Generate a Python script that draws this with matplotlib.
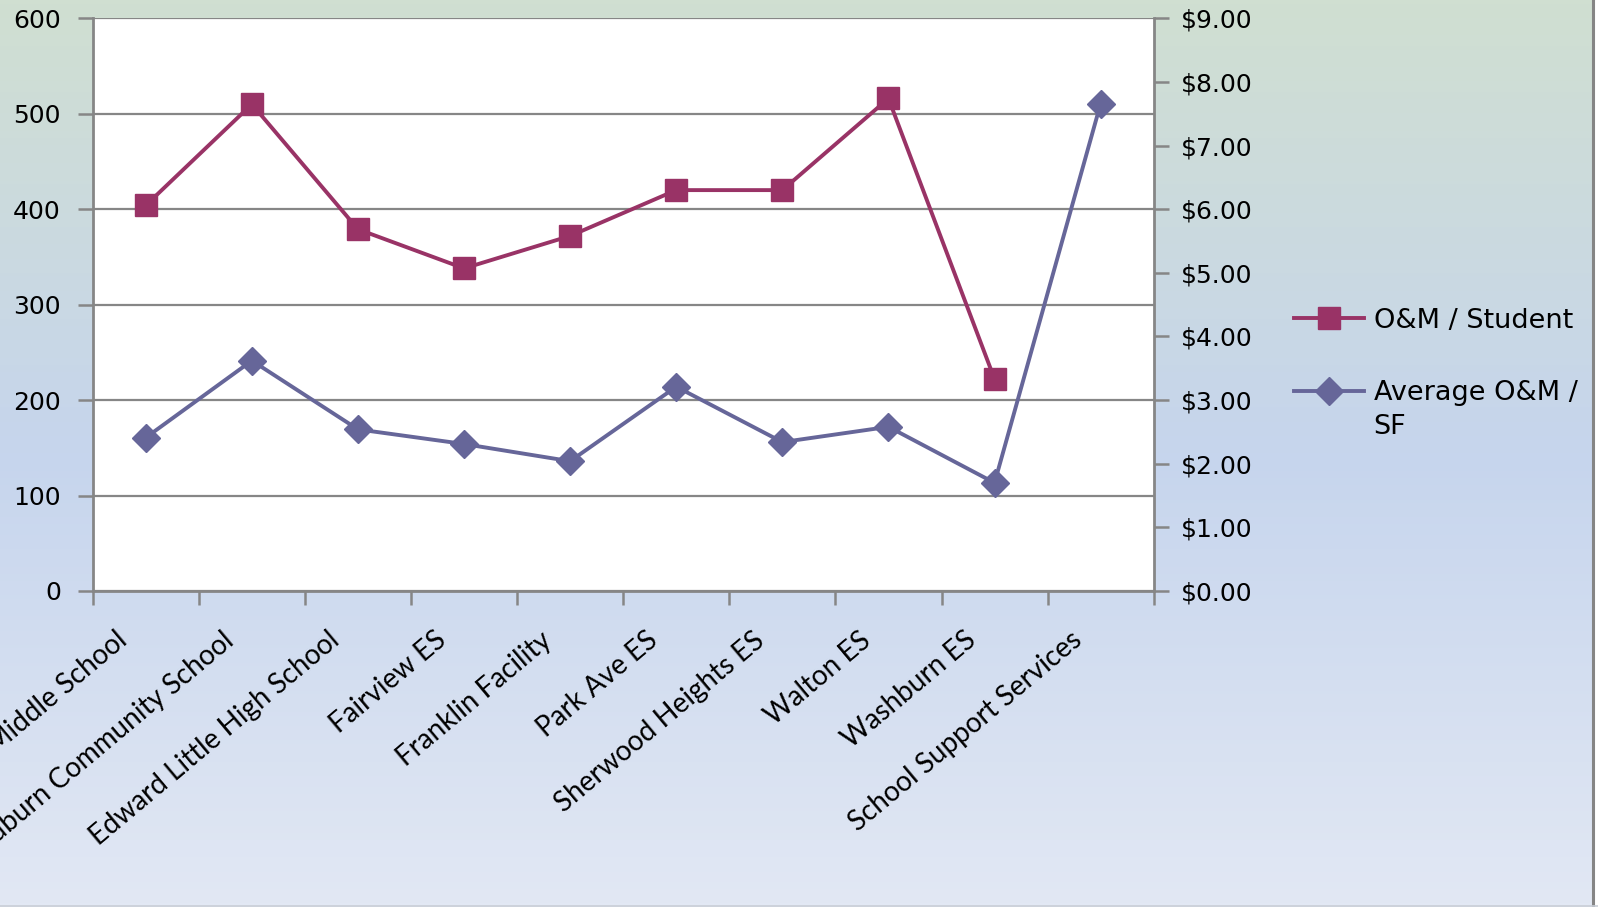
import numpy as np
import matplotlib
matplotlib.use("Agg")
import matplotlib.pyplot as plt
from matplotlib.colors import LinearSegmentedColormap
from matplotlib.ticker import FuncFormatter, FixedLocator, NullFormatter
from matplotlib.transforms import blended_transform_factory, ScaledTranslation

categories = ["Auburn Middle School", "East Auburn Community School", "Edward Little High School",
              "Fairview ES", "Franklin Facility", "Park Ave ES", "Sherwood Heights ES",
              "Walton ES", "Washburn ES", "School Support Services"]
om_per_student = [404, 510, 379, 338, 372, 420, 420, 516, 222, np.nan]
avg_om_per_sf = [2.41, 3.62, 2.54, 2.31, 2.04, 3.21, 2.34, 2.58, 1.70, 7.66]
left_ticks = [0, 100, 200, 300, 400, 500, 600]
right_ticks = [0, 1, 2, 3, 4, 5, 6, 7, 8, 9]

W, H = 1598, 907
fig = plt.figure(figsize=(W / 100, H / 100), dpi=100)

# gradient background
bg = fig.add_axes([0, 0, 1, 1], zorder=-10)
cmap = LinearSegmentedColormap.from_list("bg", [
    (0.0, (208/255, 223/255, 209/255)),
    (0.5, (198/255, 213/255, 237/255)),
    (1.0, (226/255, 232/255, 244/255)),
])
grad = np.linspace(0, 1, 256).reshape(-1, 1)
bg.imshow(grad, aspect="auto", cmap=cmap, extent=[0, 1, 0, 1], origin="upper")
bg.set_xlim(0, 1); bg.set_ylim(0, 1)
bg.axis("off")
bg.plot([1593/W, 1593/W], [0, 1], color="#858585", lw=2.2, transform=bg.transAxes)
bg.plot([0, 1], [1.5/H, 1.5/H], color="#c9ced6", lw=1.2, transform=bg.transAxes)
bg.axvspan(1595/W, 1, color="white")

left, right, top, bottom = 92.7, 1153.7, 18.3, 591.0
ax = fig.add_axes([left / W, 1 - bottom / H, (right - left) / W, (bottom - top) / H])
ax.set_facecolor("white")
ax2 = ax.twinx()

x = np.arange(len(categories))
c1 = "#993366"
c2 = "#666699"
l1, = ax.plot(x, om_per_student, color=c1, lw=2.8, marker="s", markersize=16.5,
              markeredgecolor=c1, label="O&M / Student", zorder=3)
l2, = ax2.plot(x, avg_om_per_sf, color=c2, lw=2.8, marker="D", markersize=14.5,
               markeredgecolor=c2, label="Average O&M /", zorder=3)

ax.set_xlim(-0.5, len(categories) - 0.5)
ax.set_ylim(0, 600)
ax2.set_ylim(0, 9)
ax.set_yticks(left_ticks)
ax2.set_yticks(right_ticks)
ax2.yaxis.set_major_formatter(FuncFormatter(lambda v, p: f"${v:.2f}"))

ax.grid(axis="y", color="#868686", lw=1.6)
ax.set_axisbelow(True)

gray = "#868686"
for a in (ax, ax2):
    for s in a.spines.values():
        s.set_color(gray)
        s.set_linewidth(2)
    a.spines["top"].set_visible(False)
ax.spines["right"].set_visible(False)
ax2.spines["left"].set_visible(False)
ax2.spines["bottom"].set_visible(False)

tickfont = "DejaVu Sans"
ax.tick_params(axis="y", direction="out", length=11, width=1.8, color=gray,
               labelsize=18, pad=12)
ax2.tick_params(axis="y", direction="out", length=11, width=1.8, color=gray,
                labelsize=18, pad=8.5)
for lab in ax.get_yticklabels() + ax2.get_yticklabels():
    lab.set_fontfamily(tickfont)

# x ticks at category boundaries
ax.xaxis.set_major_locator(FixedLocator(np.arange(len(categories) + 1) - 0.5))
ax.xaxis.set_major_formatter(NullFormatter())
ax.tick_params(axis="x", which="major", direction="out", length=10, width=1.8, color=gray)

# category labels at category centres
trans = blended_transform_factory(ax.transData, ax.transAxes) + \
    ScaledTranslation(-30 / 100, -36 / 100, fig.dpi_scale_trans)
for i, c in enumerate(categories):
    ax.text(x[i], 0, c, transform=trans, rotation=40, ha="right", va="top",
            rotation_mode="anchor", fontsize=20, fontfamily="Lato", clip_on=False)

leg = fig.legend(handles=[l1, l2], loc="upper left", bbox_to_anchor=(1283 / W, 1 - 297 / H),
                 frameon=False, prop={"family": tickfont, "size": 19.5},
                 handlelength=2.6, handletextpad=0.35, labelspacing=1.72, borderaxespad=0)

fig.canvas.draw()
r = fig.canvas.get_renderer()
bb = leg.get_texts()[1].get_window_extent(r)
fig.text(bb.x0, bb.y0 - 8, "SF", ha="left", va="top", fontsize=19.5, fontfamily=tickfont,
         transform=None)

fig.savefig("out.png", dpi=100)
